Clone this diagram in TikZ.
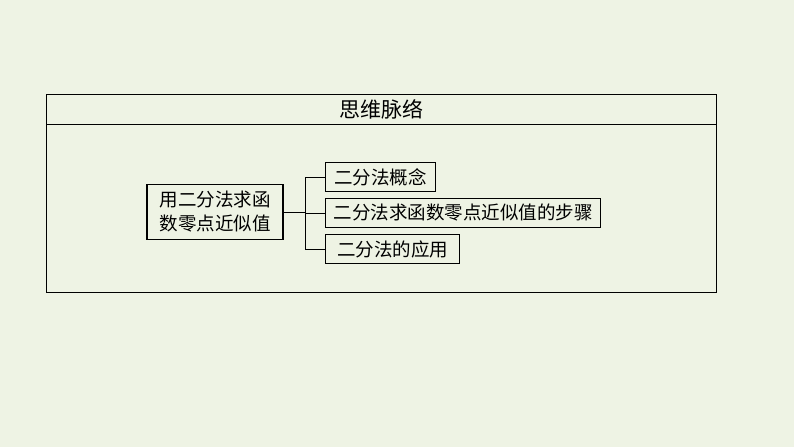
\documentclass[tikz,border=0pt]{standalone}
\usepackage{fontspec}
\newfontfamily\cjk{Noto Sans CJK SC}
\definecolor{bg}{RGB}{238,243,228}
\begin{document}
\begin{tikzpicture}[x=1pt,y=-1pt,
  box/.style={draw,line width=1.2pt,inner sep=1pt,font=\cjk\fontsize{18.5}{20}\selectfont,anchor=west,minimum height=29pt},
  ln/.style={line width=1pt}]
\fill[bg] (0,0) rectangle (794,447);
\useasboundingbox (0,0) rectangle (794,447);
\draw[ln] (46,94) rectangle (716,292);
\draw[ln] (46,124) -- (716,124);
\node[font=\cjk\fontsize{21}{23}\selectfont] (t) at (381,109) {思维脉络};
\node[draw,line width=1.2pt,align=center,font=\cjk\fontsize{18.5}{24}\selectfont,inner sep=1pt,minimum width=136pt,minimum height=55pt] (m) at (215,212) {用二分法求函\\数零点近似值};
\node[box,minimum width=110pt] (a) at (325,177) {二分法概念};
\node[box,minimum width=275pt] (b) at (325,213) {二分法求函数零点近似值的步骤};
\node[box,minimum width=134pt] (c) at (325,249) {二分法的应用};
\coordinate (j) at (305,212);
\draw[ln] (m.east) -- (j);
\draw[ln] (j |- a.west) -- (j |- c.west);
\draw[ln] (j |- a.west) -- (a.west);
\draw[ln] (j |- b.west) -- (b.west);
\draw[ln] (j |- c.west) -- (c.west);
\end{tikzpicture}
\end{document}
